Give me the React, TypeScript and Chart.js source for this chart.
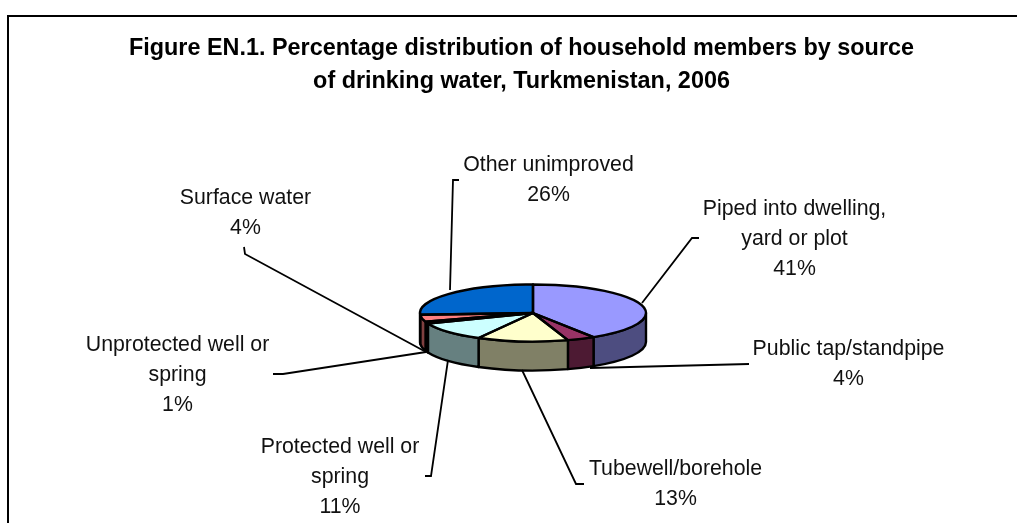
import React, { useEffect, useRef } from "react";
import { Chart, registerables } from "chart.js";

Chart.register(...registerables);

const titleLines = [
  "Figure EN.1. Percentage distribution of household members by source",
  "of drinking water, Turkmenistan, 2006",
];
const categories = [
  "Piped into dwelling, yard or plot",
  "Public tap/standpipe",
  "Tubewell/borehole",
  "Protected well or spring",
  "Unprotected well or spring",
  "Surface water",
  "Other unimproved",
];
const values = [41, 4, 13, 11, 1, 4, 26];
const labelLines = [
  ["Piped into dwelling,", "yard or plot"],
  ["Public tap/standpipe"],
  ["Tubewell/borehole"],
  ["Protected well or", "spring"],
  ["Unprotected well or", "spring"],
  ["Surface water"],
  ["Other unimproved"],
];
const topColors = ["#9999FF", "#993366", "#FFFFCC", "#CCFFFF", "#660066", "#FF8080", "#0066CC"];
const sideColors = ["#4D4D80", "#4D1A33", "#808066", "#668080", "#330033", "#804040", "#003366"];

// layout of the outside labels (centre x, first line y) and leader polylines
const labelPos: [number, number][] = [
  [794.5, 209], [848.5, 349], [675.5, 469], [340, 447], [177.5, 345], [245.5, 198], [548.5, 165],
];
const leaders: [number, number][][] = [
  [[699, 238], [692, 238], [642, 303]],
  [[749, 364], [590, 368]],
  [[584, 484], [576, 484], [522, 370]],
  [[425, 476], [431, 476], [448, 360]],
  [[273, 374], [283, 374], [426, 352]],
  [[244, 247], [245, 254], [426, 352]],
  [[459, 180], [453, 180], [450, 290]],
];

const PIE = { cx: 533, cy: 313, rx: 113, ry: 28.5, depth: 29 };
const FONT = "21.3px 'Liberation Sans', Arial, sans-serif";

const pie3d = {
  id: "pie3d",
  beforeDraw(chart: any) {
    const { ctx, width, height } = chart;
    ctx.save();
    ctx.fillStyle = "#fff";
    ctx.fillRect(0, 0, width, height);
    ctx.strokeStyle = "#000";
    ctx.lineWidth = 2;
    ctx.beginPath();
    ctx.moveTo(8, height);
    ctx.lineTo(8, 16);
    ctx.lineTo(width, 16);
    ctx.stroke();
    ctx.restore();
  },
  beforeDatasetDraw(chart: any) {
    const { ctx } = chart;
    const arcs = chart.getDatasetMeta(0).data;
    const { cx, cy, rx, ry, depth } = PIE;
    ctx.save();
    ctx.lineWidth = 2.4;
    ctx.strokeStyle = "#000";
    ctx.lineJoin = "round";
    arcs.forEach((arc: any, i: number) => {
      const a0 = Math.max(arc.startAngle, 0);
      const a1 = Math.min(arc.endAngle, Math.PI);
      if (a1 <= a0) return;
      ctx.beginPath();
      ctx.ellipse(cx, cy, rx, ry, 0, a0, a1);
      ctx.lineTo(cx + rx * Math.cos(a1), cy + ry * Math.sin(a1) + depth);
      ctx.ellipse(cx, cy + depth, rx, ry, 0, a1, a0, true);
      ctx.closePath();
      ctx.fillStyle = sideColors[i];
      ctx.fill();
      ctx.stroke();
    });
    ctx.restore();
    // squash the library's circular pie into the tilted top face
    const a = arcs[0];
    ctx.save();
    ctx.translate(cx, cy);
    ctx.scale(1, ry / rx);
    ctx.translate(-a.x, -a.y);
  },
  afterDatasetDraw(chart: any) {
    const { ctx } = chart;
    ctx.restore();
    const arcs = chart.getDatasetMeta(0).data;
    const { cx, cy, rx, ry } = PIE;
    ctx.save();
    ctx.lineWidth = 2.4;
    ctx.strokeStyle = "#000";
    ctx.lineJoin = "round";
    arcs.forEach((arc: any) => {
      ctx.beginPath();
      ctx.moveTo(cx, cy);
      ctx.ellipse(cx, cy, rx, ry, 0, arc.startAngle, arc.endAngle);
      ctx.closePath();
      ctx.stroke();
    });
    ctx.restore();
  },
  afterDatasetsDraw(chart: any) {
    const { ctx } = chart;
    ctx.save();
    ctx.strokeStyle = "#000";
    ctx.lineWidth = 1.8;
    leaders.forEach((pts) => {
      ctx.beginPath();
      pts.forEach(([x, y], k) => (k ? ctx.lineTo(x, y) : ctx.moveTo(x, y)));
      ctx.stroke();
    });
    ctx.fillStyle = "#111";
    ctx.font = FONT;
    ctx.textAlign = "center";
    ctx.textBaseline = "middle";
    labelLines.forEach((lines, i) => {
      const [x, y] = labelPos[i];
      [...lines, `${values[i]}%`].forEach((t, k) => ctx.fillText(t, x, y + k * 30));
    });
    ctx.restore();
  },
};

export default function App() {
  const ref = useRef<HTMLCanvasElement>(null);
  useEffect(() => {
    document.body.style.margin = "0";
    const chart = new Chart(ref.current!, {
      type: "pie",
      data: {
        labels: categories,
        datasets: [
          { data: values, backgroundColor: topColors, borderWidth: 0, radius: PIE.rx, clip: false } as any,
        ],
      },
      options: {
        responsive: false,
        animation: false,
        layout: { padding: { left: 26, top: 33 } },
        plugins: {
          legend: { display: false },
          tooltip: { enabled: false },
          title: {
            display: true,
            text: titleLines,
            color: "#000",
            font: { family: "'Liberation Sans', Arial, sans-serif", size: 23.4, weight: "bold", lineHeight: 1.37 },
            padding: 0,
          },
        },
      },
      plugins: [pie3d],
    });
    return () => chart.destroy();
  }, []);
  return (
    <div style={{ width: 1017, height: 523, overflow: "hidden" }}>
      <canvas ref={ref} width={1017} height={523} style={{ display: "block" }} />
    </div>
  );
}
